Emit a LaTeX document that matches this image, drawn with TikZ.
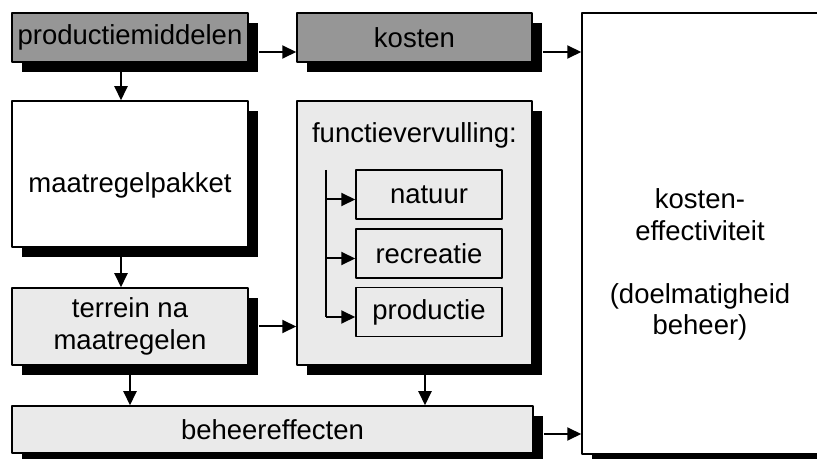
\documentclass[tikz,border=0pt]{standalone}
\usepackage{fontspec}
\setmainfont{Liberation Sans}
\usetikzlibrary{arrows.meta, shadows}
\definecolor{donkergrijs}{RGB}{150,150,150}
\definecolor{lichtgrijs}{RGB}{234,234,234}

\begin{document}
\begin{tikzpicture}[x=1bp, y=-1bp, line join=round,
  font=\fontsize{27.6}{31.7}\selectfont,
  blok/.style={draw=black, line width=1.5bp, inner sep=0pt, align=center,
    drop shadow={shadow xshift=10bp, shadow yshift=-10bp, fill=black, opacity=1}},
  donker/.style={blok, fill=donkergrijs},
  licht/.style={blok, fill=lichtgrijs},
  wit/.style={blok, fill=white},
  functie/.style={draw=black, line width=1.5bp, fill=lichtgrijs, inner sep=0pt,
    minimum width=146bp, minimum height=49bp},
  pijl/.style={line width=2bp, -{Triangle[length=14bp, width=13bp]}}]
\clip (0,0) rectangle (817,459);
\node[donker, minimum width=236bp, minimum height=49bp] (prod) at (130,37.5) {productiemiddelen};
\node[donker, minimum width=235bp, minimum height=49bp] (kosten) at (414.5,37.5) {kosten};
\node[wit, minimum width=236bp, minimum height=441bp] (doel) at (700,233.5) {};
\node[align=center] (doeltekst) at (700,264.5) {kosten-\\effectiviteit\\[31.7pt](doelmatigheid\\beheer)};
\node[wit, minimum width=236bp, minimum height=146bp, text height=44bp, text depth=6bp] (pakket) at (130,174) {maatregelpakket};
\node[licht, minimum width=236bp, minimum height=77bp] (terrein) at (130,326.5) {terrein na\\maatregelen};
\node[licht, minimum width=235bp, minimum height=264bp] (vervulling) at (414.5,233) {};
\node[anchor=base] (titel) at (414.5,143) {functievervulling:};
\node[functie] (natuur) at (429,194.5) {natuur};
\node[functie] (recreatie) at (429,253.5) {recreatie};
\node[functie] (productie) at (429,312) {productie};
\node[licht, minimum width=521bp, minimum height=47bp] (beheer) at (272.5,429.5) {beheereffecten};
\coordinate (stam) at (326,170);
\foreach \n in {natuur, recreatie, productie}
  \path ([yshift=-5bp]\n.west) coordinate (p\n);
\draw[line width=2bp] (stam) -- (stam |- pproductie);
\foreach \n in {natuur, recreatie, productie}
  \draw[pijl] (stam |- p\n) -- (p\n);
\path ([yshift=-14.5bp]prod.east) coordinate (a1);
\path ([yshift=-14.5bp]kosten.east) coordinate (a2);
\path ([yshift=-4.5bp]beheer.east) coordinate (a3);
\draw[pijl] ([xshift=10bp]a1) -- (a1 -| kosten.west);
\draw[pijl] ([xshift=10bp]a2) -- (a2 -| doel.west);
\draw[pijl] ([xshift=10bp]a3) -- (a3 -| doel.west);
\draw[pijl] ([xshift=10bp]terrein.east) -- (terrein.east -| vervulling.west);
\draw[pijl] ([xshift=-9bp]prod.south) -- ([xshift=-9bp]pakket.north);
\draw[pijl] ([xshift=-9bp]pakket.south) -- ([xshift=-9bp]terrein.north);
\draw[pijl] (terrein.south) -- (terrein.south |- beheer.north);
\draw[pijl] ([xshift=10.5bp]vervulling.south) -- ([xshift=10.5bp]vervulling.south |- beheer.north);
\end{tikzpicture}
\end{document}
